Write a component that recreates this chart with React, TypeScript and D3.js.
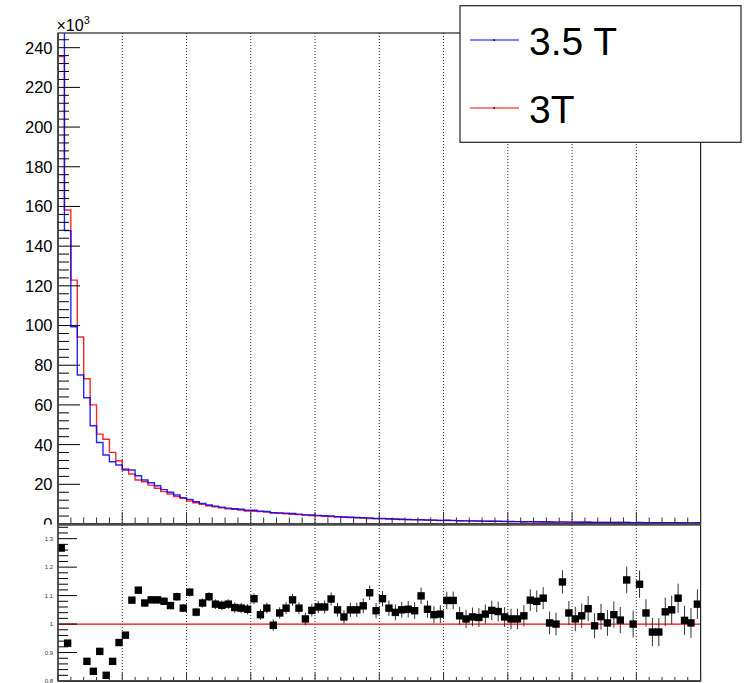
import React from 'react';
import * as d3 from 'd3';

// ---------- data (counts in units of 10^3) ----------
const xMin = 0;
const xMax = 10;
const nBins = 100;
const xMajorTicks = [0, 1, 2, 3, 4, 5, 6, 7, 8, 9, 10];

const series35T = [
  298, 147.8, 99.4, 75.1, 63.6, 49.5, 41.1, 34.8, 31.4, 29.7,
  27.2, 27.2, 24.3, 22.2, 20.8, 19.3, 17.3, 16.0, 14.6, 13.3,
  12.4, 11.2, 10.4, 9.6, 9.0, 8.5, 8.0, 7.7, 7.4, 6.9,
  6.9, 6.5, 6.3, 5.7, 5.6, 5.5, 5.3, 5.0, 4.6, 4.5,
  4.35, 4.15, 4.0, 3.7, 3.5, 3.4, 3.25, 3.15, 3.1, 2.8,
  2.85, 2.65, 2.5, 2.4, 2.3, 2.2, 2.2, 2.05, 1.95, 1.85,
  1.9, 1.85, 1.65, 1.6, 1.55, 1.5, 1.45, 1.4, 1.35, 1.3,
  1.25, 1.2, 1.17, 1.2, 1.15, 1.13, 1.0, 0.97, 1.08, 0.95,
  0.92, 0.9, 0.9, 0.82, 0.83, 0.79, 0.8, 0.76, 0.84, 0.71,
  0.8, 0.71, 0.64, 0.63, 0.66, 0.65, 0.65, 0.6, 0.57, 0.6,
];

const series3T = [
  235.5, 158.2, 122.9, 94.2, 73.2, 60.0, 45.3, 42.7, 36.1, 31.9,
  27.7, 25.2, 22.2, 21.3, 19.6, 18.0, 16.3, 15.1, 13.8, 12.9,
  11.6, 10.7, 9.9, 9.2, 8.7, 8.2, 7.7, 7.4, 7.0, 6.5,
  6.4, 6.3, 6.0, 5.7, 5.4, 5.2, 4.9, 4.7, 4.5, 4.3,
  4.1, 3.9, 3.7, 3.55, 3.4, 3.25, 3.1, 2.95, 2.8, 2.7,
  2.6, 2.5, 2.4, 2.3, 2.2, 2.1, 2.0, 1.95, 1.9, 1.8,
  1.75, 1.7, 1.62, 1.56, 1.5, 1.45, 1.4, 1.35, 1.3, 1.26,
  1.22, 1.18, 1.14, 1.1, 1.07, 1.04, 1.0, 0.97, 0.94, 0.92,
  0.9, 0.87, 0.85, 0.83, 0.81, 0.79, 0.77, 0.75, 0.73, 0.71,
  0.7, 0.68, 0.66, 0.65, 0.63, 0.62, 0.6, 0.59, 0.57, 0.56,
];

const ratioValues = [
  1.267, 0.933, 0.78, 0.79, 0.869, 0.834, 0.904, 0.82, 0.869, 0.935,
  0.961, 1.084, 1.119, 1.074, 1.085, 1.085, 1.08, 1.065, 1.096, 1.056,
  1.112, 1.042, 1.074, 1.096, 1.07, 1.066, 1.07, 1.058, 1.056, 1.052,
  1.089, 1.033, 1.056, 0.996, 1.039, 1.056, 1.085, 1.056, 1.018, 1.048,
  1.06, 1.06, 1.088, 1.05, 1.025, 1.05, 1.05, 1.064, 1.11, 1.047,
  1.089, 1.056, 1.041, 1.05, 1.052, 1.047, 1.099, 1.052, 1.033, 1.035,
  1.083, 1.083, 1.029, 1.018, 1.025, 1.023, 1.035, 1.048, 1.044, 1.025,
  1.018, 1.018, 1.029, 1.084, 1.08, 1.091, 1.004, 1.0, 1.148, 1.039,
  1.018, 1.029, 1.054, 0.994, 1.026, 1.004, 1.033, 1.014, 1.155, 1.0,
  1.14, 1.039, 0.972, 0.972, 1.043, 1.05, 1.091, 1.013, 1.004, 1.07,
];

const ratioErrors = [
  0.004, 0.004, 0.005, 0.005, 0.006, 0.006, 0.007, 0.007, 0.008, 0.008,
  0.010, 0.010, 0.011, 0.011, 0.012, 0.012, 0.013, 0.013, 0.014, 0.014,
  0.015, 0.015, 0.016, 0.016, 0.017, 0.017, 0.017, 0.018, 0.018, 0.018,
  0.019, 0.019, 0.019, 0.020, 0.020, 0.021, 0.021, 0.021, 0.022, 0.022,
  0.022, 0.023, 0.023, 0.024, 0.024, 0.025, 0.025, 0.026, 0.026, 0.027,
  0.027, 0.027, 0.028, 0.028, 0.029, 0.029, 0.029, 0.030, 0.030, 0.031,
  0.031, 0.031, 0.032, 0.032, 0.033, 0.033, 0.034, 0.034, 0.035, 0.035,
  0.036, 0.036, 0.037, 0.038, 0.038, 0.039, 0.040, 0.040, 0.041, 0.042,
  0.043, 0.043, 0.044, 0.044, 0.045, 0.045, 0.046, 0.046, 0.047, 0.047,
  0.048, 0.048, 0.049, 0.049, 0.050, 0.050, 0.051, 0.051, 0.052, 0.052,
];

const yTicksTop = [0, 20, 40, 60, 80, 100, 120, 140, 160, 180, 200, 220, 240];
const yTicksRatio = [0.8, 0.9, 1.0, 1.1, 1.2, 1.3];
const yMaxTop = 247.4;
const ratioDomain = [0.8, 1.348];
const legendLabels = ['3.5 T', '3T'];
const seriesColors = ['#0000ff', '#ff0000'];

// ---------- layout ----------
const W = 744;
const H = 683;
const L = 58;
const R = 700.6;
const topT = 33;
const topB = 524;
const botT = 525;
const botB = 681;
const FONT = '"Liberation Sans", Arial, Helvetica, sans-serif';

export default function App() {
  const x = d3.scaleLinear().domain([xMin, xMax]).range([L, R]);
  const yTop = d3.scaleLinear().domain([0, yMaxTop]).range([topB, topT]);
  const yRat = d3.scaleLinear().domain(ratioDomain).range([botB, botT]);
  const binW = (xMax - xMin) / nBins;

  const stepPath = (vals: number[]) => {
    const pts: [number, number][] = vals.map((v, i) => [xMin + i * binW, v]);
    pts.push([xMax, vals[vals.length - 1]]);
    const line = d3
      .line<[number, number]>()
      .x((d) => x(d[0]))
      .y((d) => yTop(d[1]))
      .curve(d3.curveStepAfter);
    return line(pts) || '';
  };

  const xMinor = d3.range(0, 51).map((i) => xMin + i * 0.2);
  const yMinorTop = d3.range(0, 62).map((i) => i * 4).filter((v) => v <= yMaxTop);
  const yMinorRat = d3.range(0, 28).map((i) => 0.8 + i * 0.02).filter((v) => v <= ratioDomain[1] + 1e-9);
  const gridX = xMajorTicks.filter((t) => t > xMin && t < xMax);

  return (
    <svg
      width={W}
      height={H}
      style={{ position: 'absolute', left: 0, top: 0, background: '#fff' }}
      fontFamily={FONT}
    >
      <defs>
        <clipPath id="clipTop">
          <rect x={L} y={topT} width={R - L} height={topB - topT} />
        </clipPath>
        <clipPath id="clipBot">
          <rect x={L} y={botT} width={R - L} height={botB - botT} />
        </clipPath>
      </defs>
      <rect x={0} y={0} width={W} height={H} fill="#fff" />

      {/* ===== top pad ===== */}
      {gridX.map((t) => (
        <line key={'gt' + t} x1={x(t)} x2={x(t)} y1={topT} y2={topB} stroke="#222" strokeWidth={1} strokeDasharray="1,2" />
      ))}
      <g clipPath="url(#clipTop)">
        <path d={stepPath(series3T)} fill="none" stroke={seriesColors[1]} strokeWidth={1.4} strokeOpacity={0.85} />
        <path d={stepPath(series35T)} fill="none" stroke={seriesColors[0]} strokeWidth={1.4} strokeOpacity={0.85} />
      </g>
      {/* frame */}
      <rect x={L} y={topT} width={R - L} height={topB - topT} fill="none" stroke="#222" strokeWidth={1.2} />
      {/* y ticks */}
      {yMinorTop.map((v) => (
        <line key={'ym' + v} x1={L} x2={L + (v % 20 === 0 ? 22 : 11)} y1={yTop(v)} y2={yTop(v)} stroke="#000" strokeWidth={1} />
      ))}
      {yTicksTop.map((v) => (
        <text key={'yl' + v} x={52.5} y={yTop(v)} dy="0.36em" textAnchor="end" fontSize={16.5} fill="#000">
          {v}
        </text>
      ))}
      <text x={56.5} y={31} fontSize={16} fill="#000">
        ×10
        <tspan dy={-7} fontSize={11}>
          3
        </tspan>
      </text>
      {/* x ticks top pad */}
      {xMinor.map((t, i) => (
        <line key={'xt' + i} x1={x(t)} x2={x(t)} y1={topB} y2={topB - (i % 5 === 0 ? 12 : 6.5)} stroke="#333" strokeWidth={1} />
      ))}
      <line x1={L} x2={R} y1={topB} y2={topB} stroke="#444" strokeWidth={2} />
      <line x1={L} x2={L} y1={topT} y2={topB} stroke="#444" strokeWidth={1.3} />

      {/* legend */}
      <rect x={460} y={5.7} width={281} height={136.6} fill="#fff" stroke="#222" strokeWidth={1.2} />
      {legendLabels.map((lab, i) => (
        <g key={lab}>
          <line x1={470} x2={519} y1={40 + i * 68} y2={40 + i * 68} stroke={seriesColors[i]} strokeWidth={1.2} />
          <rect x={493.5} y={39.3 + i * 68} width={1.5} height={1.5} fill="#000" />
          <text x={529} y={55 + i * 68} fontSize={39} fill="#000">
            {lab}
          </text>
        </g>
      ))}

      {/* ===== bottom pad ===== */}
      <rect x={0} y={524.6} width={W} height={H - 524.6} fill="#fff" />
      {gridX.map((t) => (
        <line key={'gb' + t} x1={x(t)} x2={x(t)} y1={botT} y2={botB} stroke="#222" strokeWidth={1} strokeDasharray="1,2" />
      ))}
      <g clipPath="url(#clipBot)">
        <line x1={L} x2={R} y1={yRat(1)} y2={yRat(1)} stroke="#ff0000" strokeWidth={1.3} />
        {ratioValues.map((r, i) => {
          const cx = x(xMin + (i + 0.5) * binW);
          return (
            <line
              key={'e' + i}
              x1={cx}
              x2={cx}
              y1={yRat(r - ratioErrors[i])}
              y2={yRat(r + ratioErrors[i])}
              stroke="#333"
              strokeWidth={1}
            />
          );
        })}
        {ratioValues.map((r, i) => {
          if (r < ratioDomain[0] || r > ratioDomain[1]) return null;
          const cx = x(xMin + (i + 0.5) * binW);
          return <rect key={'m' + i} x={cx - 3.7} y={yRat(r) - 3.7} width={7.4} height={7.4} fill="#000" />;
        })}
      </g>
      <rect x={L} y={botT} width={R - L} height={botB - botT} fill="none" stroke="#222" strokeWidth={1.2} />
      {yMinorRat.map((v, i) => (
        <line key={'rm' + i} x1={L} x2={L + (i % 5 === 0 ? 19 : 10)} y1={yRat(v)} y2={yRat(v)} stroke="#000" strokeWidth={1} />
      ))}
      {yTicksRatio.map((v) => (
        <text key={'rl' + v} x={53} y={yRat(v)} dy="0.36em" textAnchor="end" fontSize={6} fill="#333">
          {d3.format('~g')(v)}
        </text>
      ))}
      {xMinor.map((t, i) => (
        <line key={'xb' + i} x1={x(t)} x2={x(t)} y1={botB} y2={botB - (i % 5 === 0 ? 8 : 4)} stroke="#333" strokeWidth={1} />
      ))}
      <line x1={L} x2={R} y1={botB} y2={botB} stroke="#444" strokeWidth={2} />
      <line x1={L} x2={L} y1={topT} y2={botB} stroke="#444" strokeWidth={1.3} />
    </svg>
  );
}
